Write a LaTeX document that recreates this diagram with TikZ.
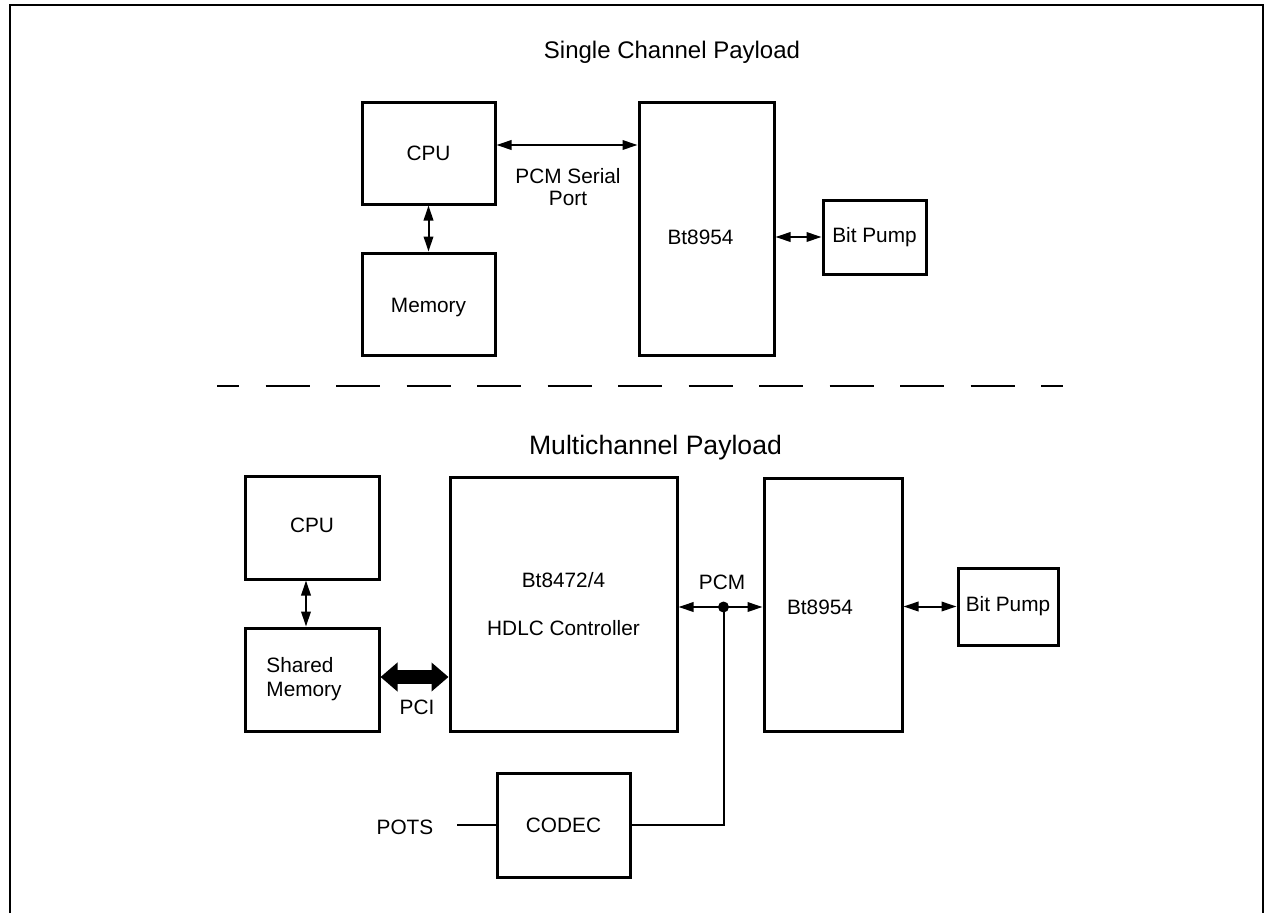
\documentclass[tikz,border=0pt]{standalone}
\usepackage{fontspec}
\setmainfont{Liberation Sans}
\usetikzlibrary{arrows.meta}
\tikzset{
  box/.style={draw, line width=3pt, inner sep=0pt, font=\fontsize{20.8}{25}\selectfont, align=center},
  txt/.style={inner sep=0pt, font=\fontsize{20.8}{23}\selectfont, align=center},
  ttl/.style={inner sep=0pt, font=\fontsize{24}{28}\selectfont},
  arr/.style={line width=2pt, {Triangle[length=15pt,width=9.5pt]}-{Triangle[length=15pt,width=9.5pt]}},
  pci/.style={line width=14pt, {Triangle[length=17pt,width=28pt]}-{Triangle[length=17pt,width=28pt]}},
  wire/.style={line width=2pt},
}
\begin{document}
\begin{tikzpicture}[x=1pt,y=-1pt]
\useasboundingbox (0,0) rectangle (1265,913);
% frame
\draw[line width=2pt] (10,913) -- (10,5) -- (1263,5) -- (1263,913);

% ---- single channel ----
\node[ttl] (t1) at (672,52) {Single Channel Payload};
\node[box, minimum width=133pt, minimum height=102pt] (cpu1) at (428.5,153) {CPU};
\node[box, minimum width=133pt, minimum height=102pt,
      label={[txt, yshift=-3pt]center:Memory}] (mem1) at (428.5,304) {};
\node[box, minimum width=135pt, minimum height=253pt,
      label={[txt, xshift=-6pt, yshift=-8.5pt]center:Bt8954}] (bt1) at (706.5,228.5) {};
\node[box, minimum width=103pt, minimum height=74pt] (bp1) at (874.5,237) {Bit Pump};
\draw[arr] ([yshift=8pt]cpu1.east) coordinate (s1) -- (s1 -| bt1.west);
\node[txt, font=\fontsize{20.8}{22.5}\selectfont] (pcmsp) at (568,187) {PCM Serial\\Port};
\draw[arr] (cpu1.south) -- (mem1.north);
\draw[arr] (bt1.east |- bp1.west) -- (bp1.west);

% separator
\draw[line width=1.3pt, dash pattern=on 44pt off 26.5pt, dash phase=22pt] (217,386) -- (1063,386);

% ---- multichannel ----
\node[ttl, font=\fontsize{26.6}{30}\selectfont] (t2) at (655.5,448) {Multichannel Payload};
\node[box, minimum width=134pt, minimum height=103pt,
      label={[txt, yshift=2.5pt]center:CPU}] (cpu2) at (312,527.5) {};
\node[box, minimum width=134pt, minimum height=103pt,
      label={[txt, align=left, xshift=-8pt, font=\fontsize{20.8}{24}\selectfont]center:Shared\\Memory}] (smem) at (312,679.5) {};
\node[box, minimum width=227pt, minimum height=254pt, font=\fontsize{20.8}{48}\selectfont] (hdlc) at (563.5,604) {Bt8472/4\\HDLC Controller};
\node[box, minimum width=138pt, minimum height=253pt,
      label={[txt, xshift=-13pt, yshift=-2.5pt]center:Bt8954}] (bt2) at (833,604.5) {};
\node[box, minimum width=100pt, minimum height=77pt] (bp2) at (1008,606.5) {Bit Pump};
\node[box, minimum width=133pt, minimum height=104pt] (codec) at (563.5,825) {CODEC};
\node[txt] (pots) at (405,827) {POTS};
\coordinate (potsl) at (457,825);
\coordinate (pcmdot) at (723.5,607);

\draw[arr] ([xshift=-6pt]cpu2.south) -- ([xshift=-6pt]smem.north);
\draw[pci] ([yshift=2.5pt]smem.east) coordinate (p1) -- (p1 -| hdlc.west);
\node[txt] (pcilbl) at (417,707) {PCI};
\draw[arr] (hdlc.east |- pcmdot) -- (bt2.west |- pcmdot);
\fill (pcmdot) circle (5.5pt);
\node[txt] (pcmlbl) at (722,582) {PCM};
\draw[wire] (pcmdot) |- (codec.east);
\draw[wire] (potsl) -- (codec.west);
\draw[arr] (bt2.east |- bp2.west) -- (bp2.west);
\end{tikzpicture}
\end{document}
